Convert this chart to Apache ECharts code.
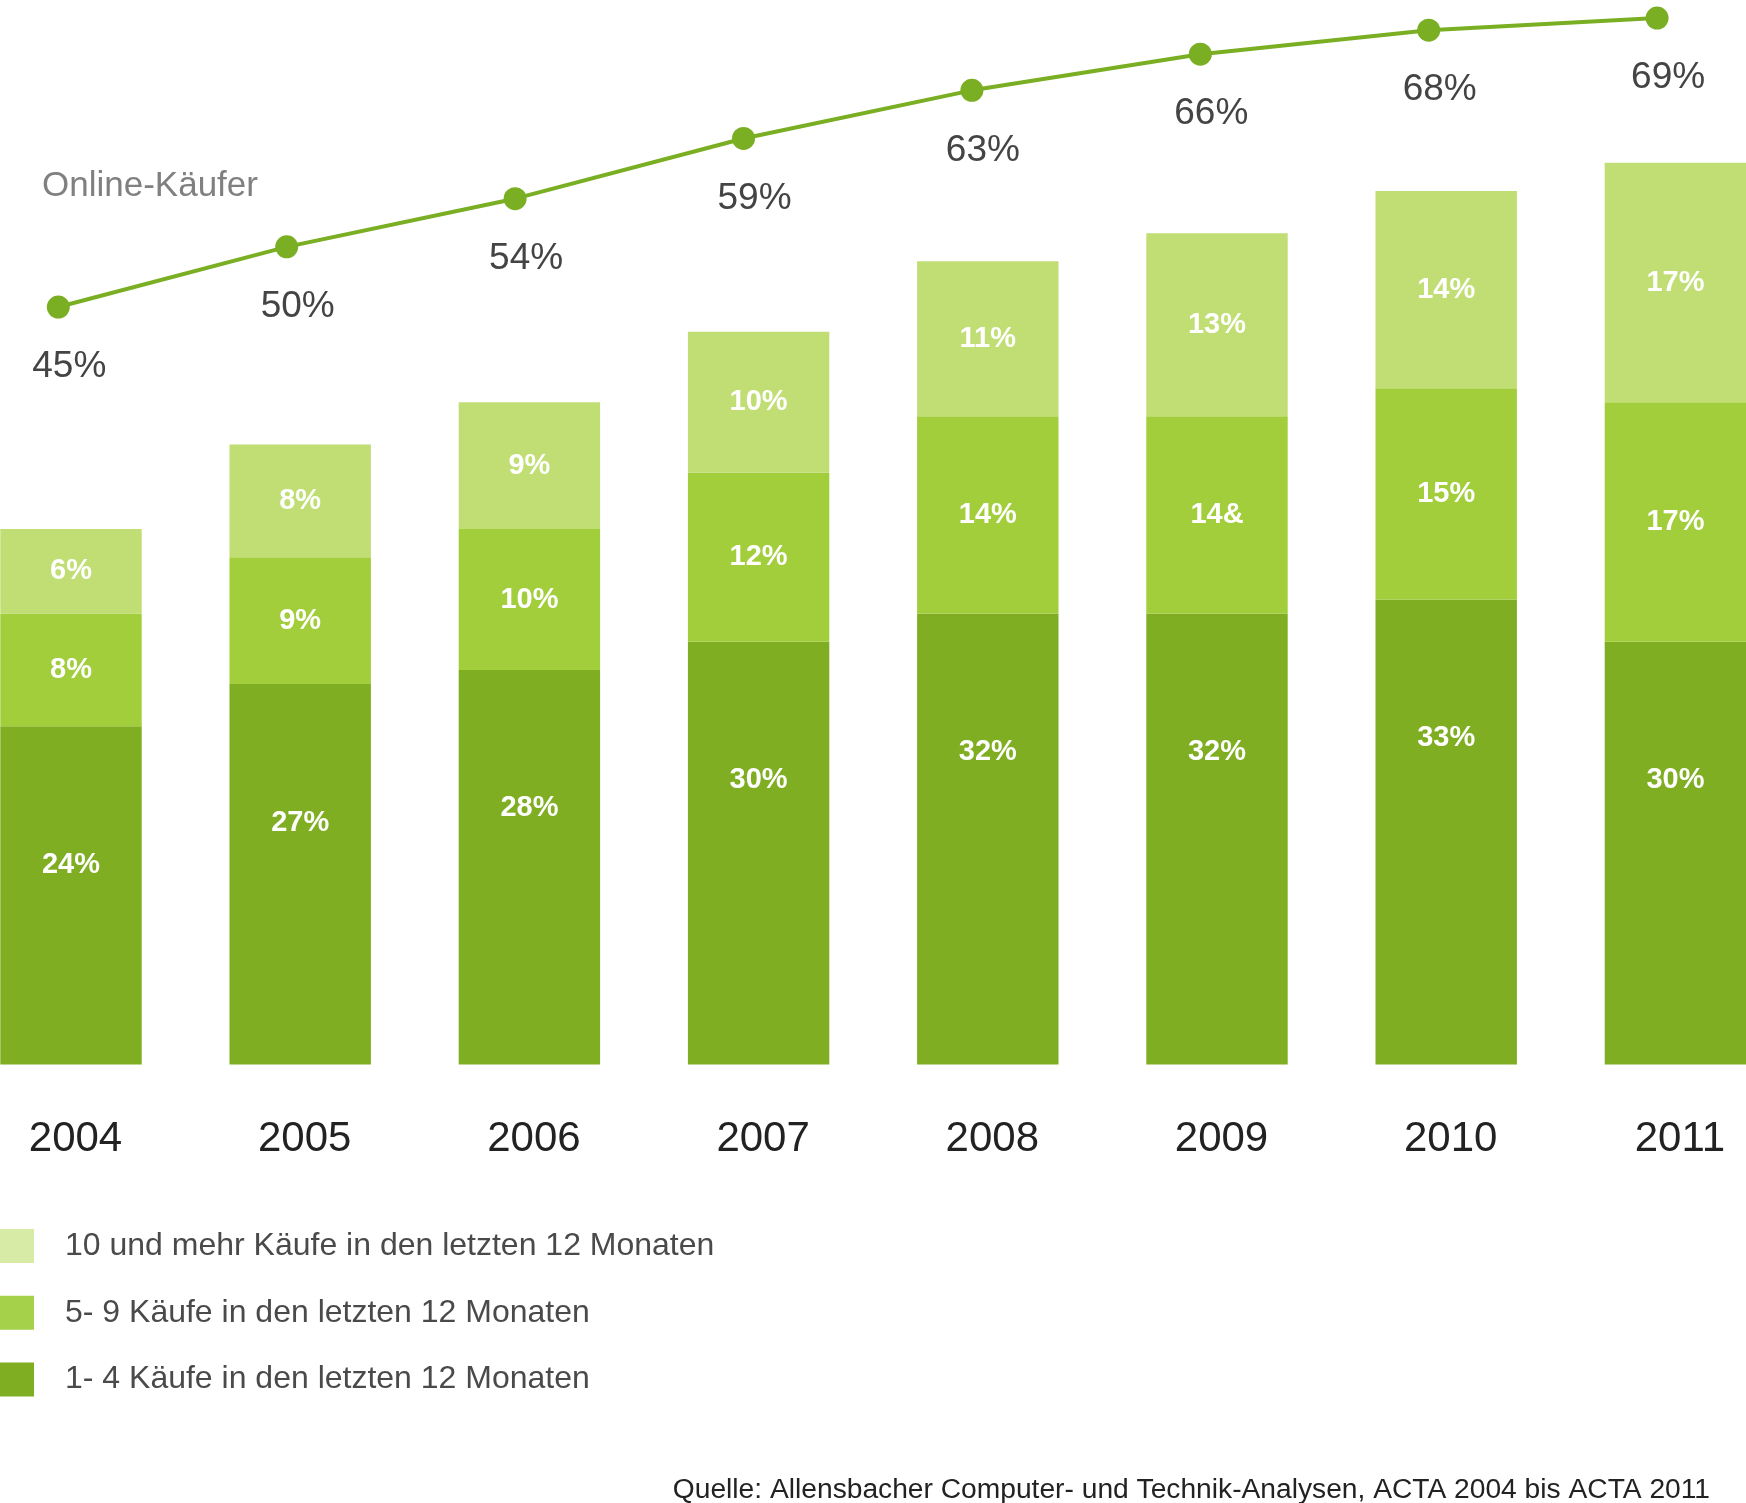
<!DOCTYPE html>
<html>
<head>
<meta charset="utf-8">
<script src="https://cdn.jsdelivr.net/npm/echarts@6/dist/echarts.min.js"></script>
<style>
html,body{margin:0;padding:0;background:#fff;width:1746px;height:1503px;overflow:hidden;position:relative;}
#chart{position:absolute;left:-60px;top:0;width:1866px;height:1503px;}
</style>
</head>
<body>
<div id="chart"></div>
<script>
// ---- data ----
const years = ['2004','2005','2006','2007','2008','2009','2010','2011'];
const buy1to4 = [24, 27, 28, 30, 32, 32, 33, 30];
const buy5to9 = [8, 9, 10, 12, 14, 14, 15, 17];
const buy10plus = [6, 8, 9, 10, 11, 13, 14, 17];
const buy5to9Labels = ['8%', '9%', '10%', '12%', '14%', '14&', '15%', '17%'];
const onlineBuyers = [45, 50, 54, 59, 63, 66, 68, 69];
const seriesNames = [
  '10 und mehr Käufe in den letzten 12 Monaten',
  '5- 9 Käufe in den letzten 12 Monaten',
  '1- 4 Käufe in den letzten 12 Monaten'
];
const lineName = 'Online-Käufer';
const sourceText = 'Quelle: Allensbacher Computer- und Technik-Analysen, ACTA 2004 bis ACTA 2011';

// ---- styling ----
const FONT = "'Liberation Sans Narrow', 'Arial Narrow', 'Liberation Sans', sans-serif";
const cLight = '#c0de74', cMid = '#a3ce3c', cDark = '#7fae22';
const cLine = '#7aae23';
const SHIFT = 60; // container is shifted left by this many px so the bands can overflow the page edges

const chart = echarts.init(document.getElementById('chart'), null, {renderer: 'canvas'});

const barLabel = (fmt, extra) => Object.assign({
  show: true, position: 'inside', color: '#ffffff', fontFamily: FONT,
  fontWeight: 'bold', fontSize: 29, formatter: fmt
}, extra || {});

chart.setOption({
  animation: false,
  backgroundColor: '#ffffff',
  grid: [
    {left: SHIFT - 43.6, width: 1833.6, top: 7.75, bottom: 438.5},
    {left: SHIFT - 55.9, width: 1827.2, top: 7.75, bottom: 438.5}
  ],
  xAxis: [
    {type: 'category', gridIndex: 0, data: years,
     axisLine: {show: false}, axisTick: {show: false},
     axisLabel: {color: '#222222', fontFamily: FONT, fontSize: 42, margin: 75,
                 verticalAlign: 'middle', padding: [0, 0, 0, 9]}},
    {type: 'category', gridIndex: 1, data: years, show: false}
  ],
  yAxis: [
    {type: 'value', gridIndex: 0, min: 0, max: 75, show: false, splitLine: {show: false}},
    {type: 'value', gridIndex: 1, min: -17.92, max: 69.86, show: false, splitLine: {show: false}}
  ],
  legend: {
    orient: 'vertical', left: SHIFT, top: 1229, padding: 0,
    itemWidth: 34, itemHeight: 34, itemGap: 32.8,
    icon: 'rect',
    textStyle: {color: '#4a4a4a', fontFamily: FONT, fontSize: 32, lineHeight: 34, padding: [0, 0, 0, 26]},
    data: [
      {name: seriesNames[0], itemStyle: {color: '#d7eba6'}},
      {name: seriesNames[1], itemStyle: {color: '#a5d04a'}},
      {name: seriesNames[2], itemStyle: {color: cDark}}
    ]
  },
  series: [
    {name: seriesNames[2], type: 'bar', stack: 'k', xAxisIndex: 0, yAxisIndex: 0,
     barWidth: 141.4, data: buy1to4, itemStyle: {color: cDark},
     label: barLabel(p => p.value + '%', {position: 'insideTop', distance: 124})},
    {name: seriesNames[1], type: 'bar', stack: 'k', xAxisIndex: 0, yAxisIndex: 0,
     barWidth: 141.4, data: buy5to9, itemStyle: {color: cMid},
     label: barLabel(p => buy5to9Labels[p.dataIndex])},
    {name: seriesNames[0], type: 'bar', stack: 'k', xAxisIndex: 0, yAxisIndex: 0,
     barWidth: 141.4, data: buy10plus, itemStyle: {color: cLight},
     label: barLabel(p => p.value + '%')},
    {name: lineName, type: 'line', xAxisIndex: 1, yAxisIndex: 1, data: onlineBuyers,
     symbol: 'circle', symbolSize: 23, lineStyle: {color: cLine, width: 4},
     itemStyle: {color: cLine},
     label: {show: true, position: 'inside', offset: [11, 60], color: '#444444',
             fontFamily: FONT, fontSize: 37, formatter: p => p.value + '%'}}
  ],
  graphic: [
    {type: 'text', left: SHIFT + 42, top: 169,
     style: {text: lineName, fill: '#808080', font: '35px ' + FONT}},
    {type: 'text', right: 96, top: 1476,
     style: {text: sourceText, fill: '#222222', font: '28.2px ' + FONT}}
  ]
});
</script>
</body>
</html>
